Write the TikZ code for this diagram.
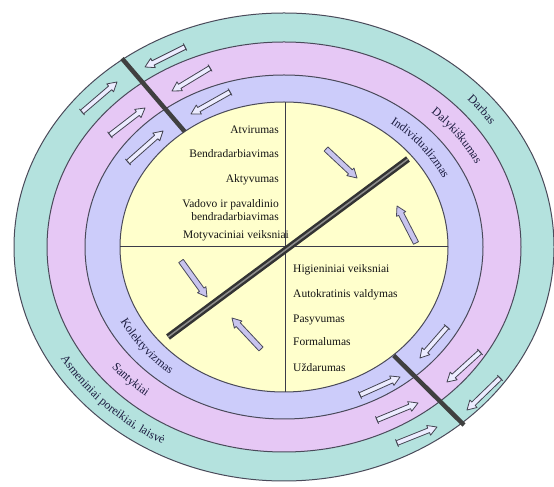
\documentclass[tikz,border=0pt]{standalone}
\usepackage{fontspec}
\setmainfont{Liberation Serif}
\usetikzlibrary{calc,decorations.text}

\definecolor{ringteal}{HTML}{B4E2DE}
\definecolor{ringpurple}{HTML}{E6C8F5}
\definecolor{ringblue}{HTML}{CCCCFA}
\definecolor{coreyellow}{HTML}{FFFFCC}
\definecolor{edgegray}{HTML}{4A4A5A}
\definecolor{labelink}{HTML}{1C1C40}
\definecolor{arrowfill}{HTML}{ECECFF}
\definecolor{innerfill}{HTML}{C8C4EE}

% block arrow: #1 style, #2 tail, #3 head, #4 shaft half-width, #5 head half-width, #6 head length
\newcommand{\blockarrow}[6]{%
  \coordinate (ba-n) at ($(#3)!#6!(#2)$);
  \draw[#1] ($(#2)!#4!90:(#3)$) -- ($(ba-n)!#4!90:(#3)$) -- ($(ba-n)!#5!90:(#3)$)
    -- (#3) -- ($(ba-n)!#5!-90:(#3)$) -- ($(ba-n)!#4!-90:(#3)$)
    -- ($(#2)!#4!-90:(#3)$) -- cycle;
}
% ring arrow with a short cross bar at its tail
\newcommand{\ringarrow}[2]{%
  \blockarrow{ringarrowstyle}{#1}{#2}{2.4pt}{5.2pt}{9pt}
  \draw[ringarrowstyle] ($(#1)!4pt!90:(#2)$) -- ($(#1)!4pt!-90:(#2)$);
}
\newcommand{\innerarrow}[2]{%
  \blockarrow{innerarrowstyle}{#1}{#2}{2.8pt}{5.2pt}{9pt}
}
\newcommand{\ringfont}{\fontsize{12}{14}\selectfont\color{labelink}}

\begin{document}
\begin{tikzpicture}[x=1pt,y=1pt,
  ringedge/.style={draw=edgegray, line width=1pt},
  ringarrowstyle/.style={draw=edgegray!90!black, fill=arrowfill, line width=0.8pt, line join=round},
  innerarrowstyle/.style={draw=edgegray, fill=innerfill, line width=0.8pt, line join=round},
  itemtext/.style={font=\fontsize{11.5}{13}\selectfont, text=black!92, inner sep=0pt},
  barrier/.style={line width=4.5pt, draw=black!75},
  ringlabel/.style={decorate, decoration={text along path, text align=center}}]

\useasboundingbox (0,0) rectangle (554,487);
\fill[white] (0,0) rectangle (554,487);

\coordinate (ctr) at (284,240);

% nested rings
\path[ringedge, fill=ringteal]   (ctr) ellipse [x radius=270pt, y radius=234pt];
\path[ringedge, fill=ringpurple] (ctr) ellipse [x radius=237pt, y radius=205pt];
\path[ringedge, fill=ringblue]   (ctr) ellipse [x radius=199pt, y radius=172pt];
\path[ringedge, fill=coreyellow] (ctr) ellipse [x radius=164pt, y radius=145pt];

% quadrant cross inside the core
\begin{scope}
  \clip (ctr) ellipse [x radius=164pt, y radius=145pt];
  \draw[edgegray!80!black, line width=0.9pt] (285,0) -- (285,487);
  \draw[edgegray!80!black, line width=0.9pt] (0,241) -- (554,241);
\end{scope}

% radial barriers across the rings
\coordinate (bA1) at (184.7,355.4);
\coordinate (bA2) at (122,428.5);
\coordinate (bB1) at (393.8,131.4);
\coordinate (bB2) at (464,62);
\draw[barrier] (bA1) -- (bA2);
\draw[barrier] (bB1) -- (bB2);

% diagonal barrier through the core
\coordinate (dg1) at (168,150);
\coordinate (dg2) at (408,328);
\draw[line width=6.5pt, draw=black!80] (dg1) -- (dg2);
\draw[line width=1.5pt, draw=black!45] (dg1) -- (dg2);

% arrows converging on the upper-left barrier
\coordinate (a1t) at (185,440); \coordinate (a1h) at (145,420);
\coordinate (a2t) at (210,419); \coordinate (a2h) at (172,396);
\coordinate (a3t) at (230,395); \coordinate (a3h) at (191,373);
\coordinate (a4t) at (82,375);  \coordinate (a4h) at (117,405);
\coordinate (a5t) at (110,352); \coordinate (a5h) at (145,379);
\coordinate (a6t) at (128,325); \coordinate (a6h) at (163,356);
\ringarrow{a1t}{a1h}
\ringarrow{a2t}{a2h}
\ringarrow{a3t}{a3h}
\ringarrow{a4t}{a4h}
\ringarrow{a5t}{a5h}
\ringarrow{a6t}{a6h}

% arrows converging on the lower-right barrier
\coordinate (b1t) at (447,160); \coordinate (b1h) at (420,129);
\coordinate (b2t) at (480,135); \coordinate (b2h) at (447,105);
\coordinate (b3t) at (500,109); \coordinate (b3h) at (467,77);
\coordinate (b4t) at (360,92);  \coordinate (b4h) at (400,110);
\coordinate (b5t) at (377,67);  \coordinate (b5h) at (418,84);
\coordinate (b6t) at (397,44);  \coordinate (b6h) at (437,60);
\ringarrow{b1t}{b1h}
\ringarrow{b2t}{b2h}
\ringarrow{b3t}{b3h}
\ringarrow{b4t}{b4h}
\ringarrow{b5t}{b5h}
\ringarrow{b6t}{b6h}

% arrows inside the core
\coordinate (c1t) at (326,338); \coordinate (c1h) at (357,309);
\coordinate (c2t) at (416,244); \coordinate (c2h) at (397,281);
\coordinate (c3t) at (181,226); \coordinate (c3h) at (207,190);
\coordinate (c4t) at (261,138); \coordinate (c4h) at (232,169);
\innerarrow{c1t}{c1h}
\innerarrow{c2t}{c2h}
\innerarrow{c3t}{c3h}
\innerarrow{c4t}{c4h}

% core texts, upper-left quadrant
\node[itemtext, anchor=mid east] (t1) at (279,356) {Atvirumas};
\node[itemtext, anchor=mid east] (t2) at (279,332) {Bendradarbiavimas};
\node[itemtext, anchor=mid east] (t3) at (279,307) {Aktyvumas};
\node[itemtext, anchor=mid east] (t4) at (279,282) {Vadovo ir pavaldinio};
\node[itemtext, anchor=mid east] (t5) at (279,269) {bendradarbiavimas};
\node[itemtext, anchor=mid east] (t6) at (289,251) {Motyvaciniai veiksniai};

% core texts, lower-right quadrant
\node[itemtext, anchor=mid west] (u1) at (293,217) {Higieniniai veiksniai};
\node[itemtext, anchor=mid west] (u2) at (293,192) {Autokratinis valdymas};
\node[itemtext, anchor=mid west] (u3) at (293,167) {Pasyvumas};
\node[itemtext, anchor=mid west] (u4) at (293,144) {Formalumas};
\node[itemtext, anchor=mid west] (u5) at (293,118) {Uždarumas};

% ring labels, upper right (running clockwise)
\path[ringlabel, decoration={text={|\ringfont|Darbas}}]
  ($(ctr)+(62:250pt and 216pt)$) arc[start angle=62, end angle=14, x radius=250pt, y radius=216pt];
\path[ringlabel, decoration={text={|\ringfont|Dalykiškumas}}]
  ($(ctr)+(62:214.5pt and 184.5pt)$) arc[start angle=62, end angle=10, x radius=214.5pt, y radius=184.5pt];
\path[ringlabel, decoration={text={|\ringfont|Individualizmas}}]
  ($(ctr)+(68:177.5pt and 154.5pt)$) arc[start angle=68, end angle=10, x radius=177.5pt, y radius=154.5pt];

% ring labels, lower left (running counter-clockwise)
\path[ringlabel, decoration={text={|\ringfont|Kolektyvizmas}}]
  ($(ctr)+(191:184.5pt and 161.5pt)$) arc[start angle=191, end angle=247, x radius=184.5pt, y radius=161.5pt];
\path[ringlabel, decoration={text={|\ringfont|Santykiai}}]
  ($(ctr)+(200:221.5pt and 191.5pt)$) arc[start angle=200, end angle=249, x radius=221.5pt, y radius=191.5pt];
\path[ringlabel, decoration={text={|\ringfont|Asmeniniai poreikiai, laisvė}}]
  ($(ctr)+(192:257.5pt and 223.5pt)$) arc[start angle=192, end angle=258, x radius=257.5pt, y radius=223.5pt];

\end{tikzpicture}
\end{document}
